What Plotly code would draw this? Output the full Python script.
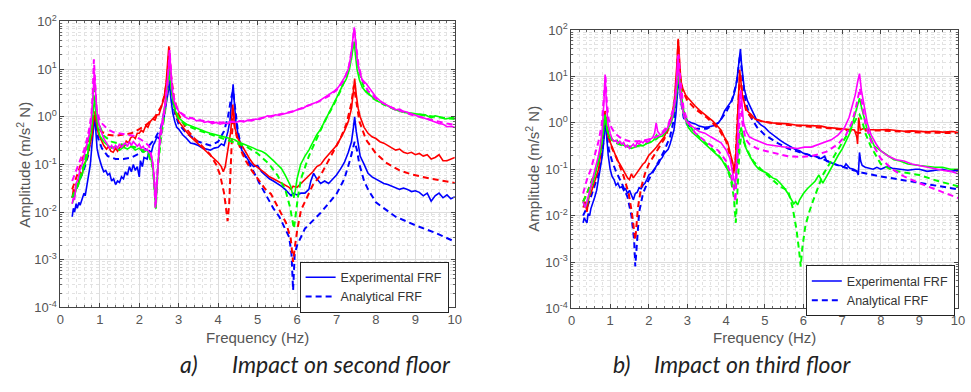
import plotly.graph_objects as go

# ---------------- data: (frequency Hz, amplitude) ----------------
# (a) Impact on second floor
a_blue_exp = [(0.30,0.008),(0.33,0.012),(0.36,0.010),(0.40,0.015),(0.43,0.012),(0.47,0.016),(0.50,0.014),(0.55,0.020),(0.60,0.025),(0.63,0.022),(0.67,0.035),(0.72,0.06),(0.76,0.10),(0.80,0.25),(0.84,0.6),(0.87,1.0),(0.90,0.5),(0.93,0.22),(0.97,0.15),(1.00,0.12),(1.05,0.09),(1.10,0.07),(1.15,0.075),(1.20,0.06),(1.25,0.065),(1.30,0.045),(1.35,0.05),(1.40,0.038),(1.45,0.045),(1.50,0.042),(1.55,0.055),(1.60,0.05),(1.65,0.07),(1.70,0.06),(1.75,0.09),(1.80,0.07),(1.85,0.10),(1.90,0.075),(1.95,0.09),(2.00,0.055),(2.03,0.12),(2.08,0.09),(2.12,0.14),(2.20,0.13),(2.25,0.20),(2.30,0.17),(2.35,0.25),(2.40,0.30),(2.45,0.38),(2.50,0.35),(2.55,0.5),(2.62,0.9),(2.68,1.8),(2.74,3.5),(2.77,5.0),(2.80,2.5),(2.85,1.2),(2.90,0.8),(2.95,0.6),(3.00,0.55),(3.10,0.42),(3.20,0.35),(3.30,0.28),(3.40,0.27),(3.50,0.25),(3.60,0.22),(3.70,0.21),(3.80,0.20),(3.90,0.22),(4.00,0.23),(4.08,0.27),(4.15,0.25),(4.20,0.35),(4.25,0.5),(4.30,0.85),(4.35,2.5),(4.38,4.8),(4.41,2.0),(4.45,0.8),(4.50,0.45),(4.55,0.3),(4.60,0.2),(4.70,0.15),(4.80,0.11),(4.90,0.09),(5.00,0.095),(5.10,0.07),(5.20,0.06),(5.30,0.05),(5.40,0.045),(5.50,0.04),(5.60,0.035),(5.70,0.03),(5.80,0.025),(5.85,0.022),(5.90,0.025),(6.00,0.023),(6.10,0.025),(6.20,0.025),(6.30,0.03),(6.35,0.045),(6.42,0.065),(6.50,0.05),(6.60,0.04),(6.70,0.045),(6.80,0.04),(6.90,0.05),(7.00,0.06),(7.10,0.08),(7.20,0.11),(7.30,0.18),(7.38,0.3),(7.43,0.6),(7.46,1.0),(7.50,0.5),(7.55,0.25),(7.60,0.15),(7.70,0.1),(7.80,0.065),(7.90,0.055),(8.00,0.05),(8.10,0.045),(8.20,0.04),(8.30,0.038),(8.40,0.035),(8.50,0.032),(8.60,0.03),(8.70,0.032),(8.80,0.03),(8.90,0.027),(9.00,0.028),(9.10,0.026),(9.20,0.022),(9.30,0.025),(9.40,0.017),(9.50,0.022),(9.60,0.025),(9.70,0.02),(9.80,0.023),(9.90,0.019),(10.00,0.021)]
a_blue_ana = [(0.30,0.02),(0.40,0.03),(0.50,0.05),(0.60,0.08),(0.70,0.15),(0.78,0.35),(0.83,0.7),(0.87,1.2),(0.91,0.6),(0.96,0.35),(1.05,0.22),(1.20,0.15),(1.40,0.13),(1.60,0.13),(1.80,0.14),(2.00,0.17),(2.20,0.22),(2.40,0.35),(2.55,0.6),(2.65,1.5),(2.72,4.0),(2.77,6.0),(2.82,3.0),(2.90,1.2),(3.00,0.7),(3.20,0.45),(3.50,0.3),(3.80,0.25),(4.00,0.3),(4.15,0.5),(4.25,1.0),(4.33,2.5),(4.38,3.5),(4.43,1.5),(4.50,0.5),(4.60,0.2),(4.75,0.12),(4.90,0.07),(5.05,0.04),(5.20,0.024),(5.40,0.012),(5.55,0.008),(5.70,0.0045),(5.80,0.003),(5.86,0.0013),(5.90,0.00023),(5.94,0.0013),(6.00,0.002),(6.20,0.0045),(6.60,0.0097),(7.00,0.024),(7.20,0.05),(7.35,0.13),(7.46,0.3),(7.52,0.2),(7.58,0.1),(7.70,0.045),(7.80,0.03),(8.00,0.016),(8.50,0.008),(9.00,0.0053),(9.50,0.0037),(10.00,0.0024)]
a_red_exp = [(0.30,0.02),(0.33,0.03),(0.37,0.025),(0.40,0.04),(0.45,0.035),(0.50,0.07),(0.55,0.06),(0.60,0.1),(0.67,0.13),(0.72,0.2),(0.76,0.28),(0.80,0.4),(0.84,0.8),(0.88,1.1),(0.92,0.7),(0.96,0.45),(1.00,0.38),(1.05,0.3),(1.10,0.25),(1.17,0.21),(1.22,0.24),(1.28,0.19),(1.34,0.18),(1.40,0.22),(1.45,0.19),(1.50,0.22),(1.56,0.26),(1.62,0.24),(1.67,0.31),(1.73,0.28),(1.78,0.36),(1.84,0.39),(1.90,0.35),(1.95,0.45),(2.00,0.45),(2.05,0.52),(2.10,0.48),(2.17,0.66),(2.22,0.6),(2.28,0.8),(2.34,0.9),(2.40,0.85),(2.45,1.1),(2.50,1.1),(2.56,1.6),(2.63,2.5),(2.68,5.0),(2.72,12),(2.75,30),(2.78,12),(2.82,4.0),(2.87,2.0),(2.92,1.2),(3.00,0.8),(3.10,0.6),(3.20,0.48),(3.30,0.38),(3.40,0.32),(3.50,0.27),(3.60,0.22),(3.70,0.19),(3.80,0.16),(3.90,0.13),(4.00,0.11),(4.08,0.09),(4.13,0.07),(4.18,0.09),(4.25,0.2),(4.32,0.5),(4.37,1.8),(4.42,0.6),(4.50,0.35),(4.60,0.25),(4.70,0.18),(4.80,0.13),(4.90,0.1),(5.00,0.085),(5.10,0.075),(5.20,0.065),(5.30,0.055),(5.40,0.05),(5.50,0.045),(5.60,0.04),(5.70,0.037),(5.80,0.033),(5.85,0.03),(5.90,0.035),(6.00,0.033),(6.10,0.04),(6.20,0.05),(6.30,0.06),(6.40,0.07),(6.50,0.09),(6.60,0.1),(6.70,0.13),(6.80,0.16),(6.90,0.2),(7.00,0.25),(7.10,0.35),(7.20,0.5),(7.30,0.8),(7.38,1.5),(7.43,3.5),(7.46,6.3),(7.50,3.0),(7.55,1.5),(7.60,1.0),(7.70,0.6),(7.80,0.45),(7.90,0.38),(8.00,0.35),(8.10,0.3),(8.20,0.28),(8.30,0.25),(8.40,0.22),(8.50,0.2),(8.60,0.21),(8.70,0.18),(8.80,0.17),(8.90,0.18),(9.00,0.16),(9.10,0.17),(9.20,0.15),(9.30,0.16),(9.40,0.13),(9.50,0.14),(9.60,0.16),(9.70,0.12),(9.80,0.12),(9.90,0.13),(10.00,0.14)]
a_red_ana = [(0.30,0.03),(0.40,0.05),(0.50,0.09),(0.60,0.16),(0.70,0.3),(0.78,0.6),(0.83,1.0),(0.87,1.3),(0.91,0.9),(0.96,0.6),(1.05,0.48),(1.20,0.42),(1.40,0.4),(1.60,0.42),(1.80,0.45),(2.00,0.55),(2.20,0.7),(2.40,1.0),(2.55,1.6),(2.65,3.0),(2.72,8.0),(2.76,28),(2.80,8.0),(2.88,2.5),(3.00,1.1),(3.20,0.55),(3.40,0.35),(3.60,0.24),(3.80,0.16),(3.95,0.1),(4.05,0.06),(4.15,0.025),(4.20,0.013),(4.24,0.0065),(4.28,0.015),(4.32,0.1),(4.35,0.6),(4.38,1.5),(4.42,0.6),(4.50,0.3),(4.60,0.18),(4.70,0.12),(4.85,0.075),(5.00,0.05),(5.20,0.03),(5.34,0.024),(5.45,0.016),(5.59,0.01),(5.72,0.006),(5.84,0.0028),(5.90,0.0009),(5.95,0.002),(6.00,0.004),(6.10,0.011),(6.25,0.02),(6.40,0.037),(6.60,0.06),(6.90,0.17),(7.10,0.35),(7.25,0.7),(7.37,1.8),(7.44,4.5),(7.50,2.0),(7.58,0.8),(7.75,0.33),(8.00,0.17),(8.25,0.11),(8.60,0.075),(8.90,0.062),(9.40,0.05),(10.00,0.041)]
a_green_exp = [(0.30,0.015),(0.35,0.02),(0.40,0.03),(0.45,0.035),(0.50,0.05),(0.55,0.06),(0.60,0.09),(0.65,0.12),(0.70,0.18),(0.75,0.3),(0.80,0.6),(0.84,1.5),(0.87,2.5),(0.90,1.2),(0.95,0.6),(1.00,0.4),(1.10,0.3),(1.20,0.25),(1.30,0.22),(1.40,0.24),(1.50,0.2),(1.60,0.23),(1.70,0.21),(1.80,0.24),(1.90,0.2),(2.00,0.22),(2.10,0.18),(2.20,0.2),(2.28,0.15),(2.35,0.08),(2.42,0.012),(2.47,0.08),(2.53,0.35),(2.60,0.9),(2.67,2.5),(2.73,6.0),(2.77,9.0),(2.81,4.0),(2.86,2.0),(2.92,1.3),(3.00,0.95),(3.10,0.8),(3.20,0.7),(3.30,0.65),(3.40,0.6),(3.50,0.55),(3.60,0.52),(3.70,0.48),(3.80,0.45),(3.90,0.43),(4.00,0.4),(4.10,0.38),(4.20,0.37),(4.30,0.35),(4.42,0.33),(4.50,0.3),(4.60,0.28),(4.70,0.26),(4.80,0.24),(4.90,0.22),(5.00,0.2),(5.10,0.19),(5.20,0.17),(5.30,0.14),(5.40,0.12),(5.50,0.1),(5.60,0.083),(5.70,0.06),(5.78,0.045),(5.84,0.035),(5.88,0.025),(5.92,0.02),(5.96,0.03),(6.00,0.05),(6.09,0.1),(6.20,0.15),(6.30,0.2),(6.40,0.3),(6.50,0.42),(6.60,0.55),(6.70,0.8),(6.80,1.1),(6.92,1.8),(7.05,3.0),(7.15,4.5),(7.25,6.2),(7.33,10),(7.38,18),(7.42,30),(7.45,38),(7.48,20),(7.52,10),(7.58,6.0),(7.65,4.2),(7.75,3.3),(7.90,2.6),(8.05,2.1),(8.25,1.8),(8.40,1.5),(8.60,1.3),(8.80,1.2),(9.00,1.15),(9.25,1.1),(9.40,0.95),(9.50,1.05),(9.60,1.0),(9.75,0.9),(9.90,0.95),(10.00,1.0)]
a_green_ana = [(0.30,0.02),(0.40,0.035),(0.50,0.06),(0.60,0.1),(0.70,0.25),(0.78,0.6),(0.83,1.8),(0.86,5.0),(0.89,2.0),(0.95,0.8),(1.10,0.4),(1.30,0.3),(1.50,0.27),(1.70,0.25),(1.90,0.23),(2.10,0.2),(2.25,0.15),(2.35,0.08),(2.42,0.012),(2.47,0.08),(2.55,0.35),(2.65,1.2),(2.72,4.0),(2.77,10),(2.82,4.0),(2.90,1.5),(3.00,0.9),(3.20,0.65),(3.50,0.52),(3.80,0.43),(4.10,0.36),(4.40,0.3),(4.70,0.24),(5.00,0.17),(5.30,0.1),(5.50,0.06),(5.70,0.03),(5.82,0.013),(5.88,0.006),(5.92,0.0045),(5.96,0.008),(6.02,0.02),(6.10,0.05),(6.30,0.15),(6.50,0.35),(6.70,0.8),(6.90,1.6),(7.10,3.5),(7.25,7.0),(7.35,14),(7.42,30),(7.46,40),(7.50,20),(7.57,9.0),(7.70,4.0),(7.90,2.5),(8.20,1.8),(8.50,1.4),(8.80,1.2),(9.10,1.1),(9.40,1.0),(9.70,0.95),(10.00,0.9)]
a_mag_exp = [(0.30,0.015),(0.33,0.02),(0.36,0.018),(0.40,0.04),(0.45,0.05),(0.50,0.08),(0.55,0.1),(0.60,0.15),(0.65,0.2),(0.70,0.3),(0.75,0.5),(0.78,0.8),(0.81,1.5),(0.83,3.0),(0.86,9.0),(0.89,3.0),(0.92,1.5),(0.96,0.8),(1.00,0.6),(1.05,0.45),(1.10,0.35),(1.15,0.3),(1.20,0.25),(1.25,0.22),(1.30,0.25),(1.35,0.21),(1.40,0.25),(1.45,0.22),(1.50,0.27),(1.55,0.23),(1.60,0.26),(1.65,0.28),(1.70,0.24),(1.75,0.3),(1.80,0.25),(1.85,0.3),(1.90,0.27),(1.95,0.24),(2.00,0.27),(2.05,0.22),(2.10,0.24),(2.15,0.2),(2.20,0.21),(2.25,0.18),(2.30,0.17),(2.35,0.1),(2.42,0.015),(2.47,0.1),(2.52,0.4),(2.58,0.8),(2.64,1.5),(2.68,3.0),(2.72,6.0),(2.75,12),(2.77,22),(2.80,8.0),(2.84,3.5),(2.88,2.2),(2.94,1.6),(3.00,1.3),(3.08,1.1),(3.15,1.0),(3.25,0.9),(3.35,0.95),(3.45,0.82),(3.55,0.85),(3.65,0.76),(3.75,0.8),(3.85,0.72),(3.95,0.76),(4.05,0.7),(4.15,0.74),(4.25,0.72),(4.35,0.8),(4.45,0.76),(4.55,0.82),(4.65,0.78),(4.75,0.85),(4.85,0.82),(4.95,0.9),(5.05,0.88),(5.15,0.95),(5.25,1.05),(5.35,1.0),(5.45,1.1),(5.55,1.08),(5.65,1.15),(5.75,1.2),(5.85,1.25),(5.95,1.35),(6.05,1.45),(6.15,1.5),(6.25,1.7),(6.35,1.8),(6.45,1.95),(6.55,2.1),(6.65,2.4),(6.75,2.7),(6.85,3.0),(6.95,3.5),(7.05,4.2),(7.15,5.5),(7.22,7.0),(7.30,10),(7.36,18),(7.41,40),(7.45,75),(7.49,35),(7.53,15),(7.58,9.0),(7.65,6.0),(7.75,5.0),(7.85,3.8),(8.00,2.6),(8.15,2.0),(8.25,1.8),(8.40,1.5),(8.50,1.4),(8.60,1.45),(8.70,1.3),(8.80,1.25),(8.90,1.15),(9.00,1.05),(9.10,1.0),(9.20,0.95),(9.30,0.9),(9.40,0.83),(9.50,0.78),(9.60,0.72),(9.70,0.7),(9.80,0.62),(9.90,0.63),(10.00,0.6)]
a_mag_ana = [(0.30,0.045),(0.40,0.075),(0.50,0.13),(0.60,0.2),(0.67,0.33),(0.74,0.6),(0.79,1.2),(0.82,3.0),(0.85,16),(0.88,4.0),(0.92,1.5),(1.00,0.8),(1.10,0.65),(1.20,0.55),(1.35,0.47),(1.50,0.45),(1.67,0.43),(1.85,0.4),(2.00,0.35),(2.15,0.29),(2.25,0.24),(2.33,0.12),(2.38,0.05),(2.41,0.012),(2.45,0.05),(2.50,0.2),(2.58,0.6),(2.65,1.5),(2.72,5.0),(2.77,25),(2.82,5.0),(2.90,2.0),(3.00,1.3),(3.20,1.0),(3.50,0.85),(3.80,0.78),(4.10,0.76),(4.40,0.78),(4.70,0.82),(5.00,0.9),(5.30,1.0),(5.60,1.15),(5.90,1.3),(6.20,1.6),(6.50,2.0),(6.80,2.7),(7.00,3.6),(7.20,6.0),(7.32,12),(7.40,30),(7.45,70),(7.50,30),(7.56,12),(7.65,6.0),(7.80,3.5),(8.00,2.4),(8.30,1.7),(8.60,1.35),(8.90,1.1),(9.20,0.95),(9.50,0.82),(9.80,0.72),(10.00,0.68)]

# (b) Impact on third floor
b_blue_exp = [(0.30,0.007),(0.33,0.009),(0.36,0.008),(0.40,0.007),(0.43,0.011),(0.47,0.01),(0.50,0.014),(0.55,0.018),(0.60,0.025),(0.65,0.035),(0.70,0.06),(0.75,0.1),(0.80,0.2),(0.84,0.45),(0.88,1.2),(0.91,0.5),(0.95,0.2),(1.00,0.1),(1.05,0.07),(1.10,0.06),(1.15,0.045),(1.20,0.05),(1.25,0.04),(1.30,0.042),(1.35,0.035),(1.40,0.038),(1.45,0.03),(1.50,0.035),(1.55,0.028),(1.60,0.022),(1.65,0.03),(1.70,0.032),(1.75,0.04),(1.80,0.038),(1.85,0.045),(1.90,0.05),(1.95,0.06),(2.00,0.075),(2.05,0.08),(2.10,0.09),(2.15,0.1),(2.20,0.12),(2.25,0.13),(2.30,0.16),(2.35,0.18),(2.40,0.22),(2.45,0.25),(2.50,0.27),(2.55,0.35),(2.60,0.5),(2.65,0.7),(2.70,1.5),(2.74,4.0),(2.77,9.0),(2.80,6.0),(2.85,2.5),(2.92,1.5),(3.00,1.1),(3.10,1.0),(3.20,0.95),(3.30,0.85),(3.45,0.8),(3.55,0.82),(3.70,0.88),(3.80,1.0),(3.87,1.2),(3.96,1.8),(4.05,2.3),(4.13,2.9),(4.20,4.0),(4.25,6.0),(4.30,12),(4.34,25),(4.37,39),(4.40,18),(4.44,8.0),(4.47,5.4),(4.55,3.0),(4.65,2.0),(4.73,1.5),(4.80,1.1),(4.90,0.9),(5.00,0.8),(5.10,0.65),(5.27,0.5),(5.40,0.42),(5.50,0.37),(5.65,0.31),(5.78,0.27),(5.90,0.25),(6.00,0.22),(6.10,0.21),(6.20,0.19),(6.30,0.2),(6.40,0.17),(6.46,0.17),(6.55,0.19),(6.60,0.15),(6.70,0.14),(6.80,0.13),(6.90,0.12),(6.97,0.12),(7.05,0.11),(7.10,0.13),(7.20,0.105),(7.30,0.1),(7.38,0.09),(7.42,0.075),(7.45,0.23),(7.48,0.15),(7.52,0.12),(7.60,0.11),(7.70,0.105),(7.80,0.1),(7.90,0.11),(8.00,0.1),(8.17,0.115),(8.30,0.105),(8.50,0.1),(8.70,0.095),(8.90,0.1),(9.00,0.1),(9.20,0.09),(9.40,0.095),(9.60,0.1),(9.80,0.09),(10.00,0.095)]
b_blue_ana = [(0.30,0.01),(0.40,0.015),(0.50,0.025),(0.60,0.045),(0.70,0.08),(0.80,0.25),(0.85,0.6),(0.88,1.0),(0.92,0.5),(0.97,0.25),(1.05,0.15),(1.15,0.09),(1.30,0.05),(1.45,0.025),(1.55,0.01),(1.62,0.003),(1.65,0.0008),(1.69,0.003),(1.75,0.012),(1.85,0.03),(2.00,0.06),(2.20,0.12),(2.40,0.25),(2.55,0.5),(2.65,1.2),(2.73,4.0),(2.78,8.0),(2.83,3.0),(2.90,1.3),(3.00,0.9),(3.20,0.75),(3.50,0.75),(3.80,1.0),(4.00,1.7),(4.15,3.0),(4.28,8.0),(4.36,30),(4.42,10),(4.50,3.0),(4.60,1.5),(4.80,0.8),(5.00,0.55),(5.30,0.38),(5.60,0.28),(6.00,0.22),(6.40,0.18),(6.80,0.13),(7.20,0.1),(7.50,0.085),(8.00,0.07),(8.50,0.06),(9.00,0.05),(9.50,0.043),(10.00,0.037)]
b_red_exp = [(0.30,0.015),(0.35,0.02),(0.40,0.012),(0.45,0.025),(0.50,0.03),(0.55,0.04),(0.60,0.05),(0.65,0.07),(0.70,0.1),(0.75,0.2),(0.80,0.4),(0.84,0.9),(0.87,1.6),(0.90,0.9),(0.95,0.5),(1.00,0.38),(1.05,0.3),(1.10,0.22),(1.15,0.18),(1.20,0.15),(1.25,0.13),(1.30,0.11),(1.35,0.09),(1.40,0.075),(1.45,0.065),(1.50,0.06),(1.55,0.08),(1.60,0.065),(1.65,0.075),(1.70,0.085),(1.75,0.1),(1.80,0.11),(1.85,0.13),(1.90,0.14),(1.95,0.17),(2.00,0.2),(2.05,0.22),(2.10,0.25),(2.15,0.27),(2.20,0.3),(2.30,0.4),(2.40,0.5),(2.50,0.8),(2.60,1.5),(2.66,3.0),(2.70,8.0),(2.73,20),(2.76,65),(2.79,20),(2.83,8.0),(2.88,5.5),(2.95,4.0),(3.02,3.4),(3.10,2.8),(3.20,2.3),(3.30,1.9),(3.45,1.5),(3.55,1.3),(3.65,1.1),(3.75,0.9),(3.87,0.69),(3.95,0.5),(4.04,0.38),(4.12,0.2),(4.17,0.14),(4.21,0.09),(4.25,0.2),(4.29,1.0),(4.32,4.0),(4.35,14),(4.38,8.0),(4.42,4.0),(4.48,2.5),(4.55,1.8),(4.65,1.5),(4.75,1.2),(4.90,1.1),(5.00,1.05),(5.20,1.0),(5.40,0.98),(5.60,0.95),(5.80,0.9),(6.00,0.88),(6.20,0.85),(6.46,0.85),(6.60,0.8),(6.80,0.78),(7.00,0.75),(7.20,0.72),(7.32,0.7),(7.38,0.5),(7.40,0.35),(7.43,1.3),(7.47,0.7),(7.55,0.75),(7.70,0.72),(7.90,0.7),(8.17,0.72),(8.40,0.68),(8.60,0.66),(8.80,0.67),(9.00,0.65),(9.20,0.64),(9.40,0.66),(9.60,0.63),(9.87,0.65),(10.00,0.62)]
b_red_ana = [(0.30,0.02),(0.40,0.03),(0.50,0.05),(0.60,0.08),(0.70,0.15),(0.80,0.5),(0.84,1.0),(0.87,1.8),(0.91,0.9),(0.96,0.5),(1.05,0.28),(1.20,0.15),(1.35,0.07),(1.48,0.03),(1.56,0.012),(1.62,0.005),(1.65,0.003),(1.68,0.006),(1.72,0.015),(1.80,0.04),(1.90,0.08),(2.00,0.13),(2.20,0.25),(2.40,0.45),(2.55,0.9),(2.65,2.0),(2.72,8.0),(2.76,60),(2.80,12),(2.87,5.0),(3.00,3.0),(3.20,2.0),(3.50,1.3),(3.80,0.75),(4.00,0.4),(4.12,0.17),(4.20,0.08),(4.24,0.15),(4.30,1.5),(4.36,12),(4.42,4.0),(4.52,1.8),(4.65,1.3),(4.90,1.1),(5.30,0.95),(6.00,0.85),(6.50,0.78),(7.00,0.72),(7.30,0.66),(7.42,0.6),(7.48,0.62),(7.60,0.68),(8.00,0.68),(9.00,0.62),(10.00,0.6)]
b_green_exp = [(0.30,0.02),(0.35,0.015),(0.40,0.018),(0.45,0.025),(0.50,0.04),(0.55,0.05),(0.60,0.07),(0.65,0.1),(0.70,0.15),(0.75,0.25),(0.80,0.5),(0.84,1.0),(0.87,1.5),(0.90,0.9),(0.95,0.6),(1.00,0.5),(1.10,0.4),(1.18,0.42),(1.25,0.35),(1.35,0.33),(1.45,0.3),(1.55,0.28),(1.65,0.3),(1.75,0.33),(1.85,0.32),(1.95,0.36),(2.05,0.38),(2.12,0.42),(2.20,0.55),(2.25,0.5),(2.35,0.52),(2.45,0.65),(2.55,0.9),(2.62,1.3),(2.68,2.5),(2.73,5.0),(2.77,12),(2.80,6.0),(2.85,2.5),(2.90,1.5),(2.95,1.1),(3.02,0.8),(3.10,0.65),(3.20,0.55),(3.30,0.45),(3.45,0.36),(3.55,0.3),(3.65,0.26),(3.75,0.21),(3.87,0.17),(3.95,0.13),(4.04,0.1),(4.10,0.08),(4.16,0.05),(4.21,0.035),(4.25,0.06),(4.30,0.2),(4.35,0.6),(4.39,0.8),(4.43,0.55),(4.50,0.3),(4.60,0.2),(4.73,0.13),(4.85,0.1),(4.95,0.09),(5.08,0.08),(5.20,0.065),(5.30,0.06),(5.40,0.05),(5.50,0.04),(5.60,0.03),(5.70,0.022),(5.75,0.018),(5.80,0.02),(5.85,0.017),(5.90,0.022),(6.00,0.03),(6.10,0.038),(6.20,0.045),(6.30,0.055),(6.40,0.075),(6.50,0.05),(6.60,0.07),(6.70,0.1),(6.80,0.14),(6.90,0.2),(7.00,0.27),(7.10,0.4),(7.20,0.6),(7.30,1.2),(7.37,2.0),(7.42,3.0),(7.45,3.4),(7.50,2.2),(7.57,1.2),(7.65,0.7),(7.75,0.45),(7.83,0.32),(8.00,0.25),(8.17,0.2),(8.34,0.16),(8.50,0.15),(8.70,0.13),(9.00,0.12),(9.20,0.115),(9.40,0.11),(9.60,0.11),(9.80,0.1),(10.00,0.1)]
b_green_ana = [(0.30,0.02),(0.40,0.03),(0.50,0.05),(0.60,0.08),(0.70,0.15),(0.80,0.45),(0.84,0.9),(0.87,1.4),(0.91,0.8),(0.97,0.5),(1.10,0.38),(1.30,0.33),(1.60,0.3),(1.90,0.35),(2.20,0.45),(2.50,0.8),(2.65,2.0),(2.73,6.0),(2.77,12),(2.82,5.0),(2.90,1.8),(3.00,1.0),(3.20,0.6),(3.50,0.35),(3.80,0.2),(4.00,0.12),(4.12,0.06),(4.20,0.025),(4.25,0.007),(4.29,0.03),(4.35,0.3),(4.40,0.6),(4.45,0.4),(4.55,0.25),(4.70,0.15),(4.90,0.1),(5.10,0.07),(5.30,0.05),(5.45,0.04),(5.60,0.035),(5.72,0.015),(5.82,0.005),(5.88,0.002),(5.93,0.0008),(5.97,0.002),(6.05,0.006),(6.15,0.012),(6.25,0.021),(6.50,0.075),(6.75,0.17),(7.00,0.37),(7.25,0.8),(7.38,1.3),(7.45,1.5),(7.52,1.1),(7.60,0.6),(7.75,0.3),(8.00,0.13),(8.30,0.095),(8.60,0.085),(9.00,0.075),(9.50,0.055),(10.00,0.043)]
b_mag_exp = [(0.30,0.02),(0.35,0.015),(0.40,0.02),(0.45,0.03),(0.50,0.045),(0.55,0.06),(0.60,0.09),(0.65,0.13),(0.70,0.2),(0.75,0.35),(0.80,0.8),(0.84,3.0),(0.87,11),(0.90,3.0),(0.94,1.0),(1.00,0.6),(1.05,0.45),(1.10,0.4),(1.15,0.42),(1.20,0.36),(1.25,0.4),(1.30,0.35),(1.35,0.38),(1.40,0.3),(1.45,0.33),(1.50,0.28),(1.55,0.32),(1.60,0.35),(1.65,0.3),(1.70,0.38),(1.75,0.35),(1.80,0.4),(1.85,0.37),(1.90,0.42),(1.95,0.38),(2.00,0.4),(2.05,0.45),(2.10,0.48),(2.15,0.6),(2.19,1.0),(2.23,0.65),(2.30,0.55),(2.38,0.6),(2.45,0.7),(2.55,1.0),(2.62,1.5),(2.68,3.0),(2.72,8.0),(2.75,28),(2.78,12),(2.82,4.0),(2.87,2.0),(2.92,1.3),(3.00,1.0),(3.10,0.85),(3.20,0.75),(3.30,0.65),(3.45,0.6),(3.60,0.5),(3.75,0.42),(3.87,0.37),(4.00,0.26),(4.10,0.17),(4.15,0.1),(4.20,0.06),(4.24,0.05),(4.28,0.3),(4.32,1.5),(4.35,3.5),(4.38,5.0),(4.41,2.0),(4.45,1.0),(4.52,0.65),(4.60,0.5),(4.75,0.43),(4.90,0.38),(5.05,0.34),(5.27,0.32),(5.45,0.3),(5.65,0.29),(5.85,0.28),(6.03,0.3),(6.20,0.3),(6.40,0.34),(6.55,0.38),(6.72,0.43),(6.90,0.55),(7.06,0.78),(7.18,1.3),(7.28,2.5),(7.34,4.0),(7.40,7.5),(7.45,11.5),(7.50,5.0),(7.57,2.2),(7.65,1.0),(7.75,0.55),(7.88,0.35),(8.00,0.25),(8.20,0.19),(8.40,0.16),(8.60,0.15),(8.80,0.13),(9.00,0.12),(9.20,0.11),(9.40,0.1),(9.60,0.095),(9.80,0.09),(10.00,0.08)]
b_mag_ana = [(0.30,0.03),(0.40,0.06),(0.50,0.1),(0.60,0.2),(0.70,0.4),(0.78,0.9),(0.83,2.5),(0.86,6.0),(0.88,10),(0.91,3.0),(0.96,1.2),(1.03,0.8),(1.12,0.6),(1.30,0.45),(1.50,0.4),(1.70,0.4),(1.90,0.42),(2.10,0.46),(2.30,0.55),(2.50,0.9),(2.65,2.2),(2.72,7.0),(2.77,30),(2.82,8.0),(2.90,2.0),(3.00,1.1),(3.20,0.6),(3.50,0.38),(3.80,0.25),(4.00,0.15),(4.12,0.08),(4.20,0.04),(4.24,0.02),(4.28,0.1),(4.34,1.5),(4.38,4.0),(4.42,1.0),(4.50,0.45),(4.60,0.35),(4.80,0.28),(5.00,0.25),(5.30,0.22),(5.60,0.19),(6.00,0.185),(6.30,0.2),(6.60,0.24),(6.90,0.35),(7.10,0.55),(7.25,1.0),(7.35,2.0),(7.42,4.0),(7.46,5.5),(7.52,2.5),(7.60,1.0),(7.75,0.4),(8.00,0.17),(8.30,0.1),(8.60,0.07),(9.00,0.05),(9.50,0.035),(10.00,0.024)]

x_ticks = [0, 1, 2, 3, 4, 5, 6, 7, 8, 9, 10]
y_major = [1e-4, 1e-3, 1e-2, 1e-1, 1e0, 1e1, 1e2]
y_major_text = ["10<sup>-4</sup>", "10<sup>-3</sup>", "10<sup>-2</sup>", "10<sup>-1</sup>",
                "10<sup>0</sup>", "10<sup>1</sup>", "10<sup>2</sup>"]
y_minor = [m * 10.0 ** e for e in range(-4, 2) for m in range(2, 10)]

legend_names = ["Experimental FRF", "Analytical FRF"]
captions = ["a)", "Impact on second floor", "b)", "Impact on third floor"]

COLORS = {"blue": "#0000ff", "red": "#ff0000", "green": "#00ff00", "mag": "#ff00ff"}

# ---------------- figure ----------------
fig = go.Figure()

panels = [
    ("x", "y", "legend", {"blue": (a_blue_exp, a_blue_ana), "red": (a_red_exp, a_red_ana),
                          "green": (a_green_exp, a_green_ana), "mag": (a_mag_exp, a_mag_ana)}),
    ("x2", "y2", "legend2", {"blue": (b_blue_exp, b_blue_ana), "red": (b_red_exp, b_red_ana),
                             "green": (b_green_exp, b_green_ana), "mag": (b_mag_exp, b_mag_ana)}),
]

for xa, ya, leg, series in panels:
    for key in ["blue", "red", "green", "mag"]:
        exp, ana = series[key]
        for kind, pts in (("exp", exp), ("ana", ana)):
            xs = [p[0] for p in pts]
            ys = [p[1] for p in pts]
            is_blue = key == "blue"
            fig.add_trace(go.Scatter(
                x=xs, y=ys, mode="lines", xaxis=xa, yaxis=ya,
                line=dict(color=COLORS[key], width=1.6 if kind == "exp" else 2.0,
                          dash="solid" if kind == "exp" else "6px,4px"),
                name=legend_names[0] if kind == "exp" else legend_names[1],
                showlegend=is_blue, legend=leg,
                hoverinfo="skip",
            ))

W, H = 971, 392

def px_x(p):
    return p / W

def px_y(p):
    return 1 - p / H

tick_font = dict(family="Liberation Sans, Arial, sans-serif", size=13, color="#555555")
common_x = dict(range=[0, 10], tickvals=x_ticks, ticks="inside", ticklen=4, tickcolor="#444",
                showline=True, linecolor="#444", linewidth=1, mirror="ticks",
                showgrid=True, gridcolor="#dcdcdc", gridwidth=1, zeroline=False,
                tickfont=tick_font,
                minor=dict(dtick=0.2, showgrid=True, gridcolor="#e2e2e2", griddash="dot",
                           ticks="inside", ticklen=2, tickcolor="#666"))
common_y = dict(type="log", range=[-4, 2], tickvals=y_major, ticktext=y_major_text,
                ticks="inside", ticklen=4, tickcolor="#444",
                showline=True, linecolor="#444", linewidth=1, mirror="ticks",
                showgrid=True, gridcolor="#dcdcdc", gridwidth=1, zeroline=False,
                tickfont=tick_font,
                minor=dict(tickvals=y_minor, showgrid=True, gridcolor="#e2e2e2", griddash="dot",
                           ticks="inside", ticklen=2, tickcolor="#666"))

legend_font = dict(family="Liberation Sans, Arial, sans-serif", size=12.5, color="#333")
fig.update_layout(
    width=W, height=H, margin=dict(l=0, r=0, t=0, b=0),
    paper_bgcolor="white", plot_bgcolor="white",
    xaxis=dict(domain=[px_x(57), px_x(456)], anchor="y", **common_x),
    yaxis=dict(domain=[px_y(312), px_y(13)], anchor="x", **common_y),
    xaxis2=dict(domain=[px_x(574), px_x(965)], anchor="y2", **common_x),
    yaxis2=dict(domain=[px_y(313), px_y(22)], anchor="x2", **common_y),
    legend=dict(x=px_x(299), y=px_y(264), xanchor="left", yanchor="top",
                bgcolor="white", bordercolor="#222", borderwidth=1,
                font=legend_font, tracegroupgap=0, itemwidth=30),
    legend2=dict(x=px_x(811), y=px_y(268), xanchor="left", yanchor="top",
                 bgcolor="white", bordercolor="#222", borderwidth=1,
                 font=legend_font, tracegroupgap=0, itemwidth=30),
)

title_font = dict(family="Liberation Sans, Arial, sans-serif", size=15, color="#555555")
ann = []
for cx, cy in ((20, 163), (535, 167)):
    ann.append(dict(text="Amplitude (m/s<sup>2</sup> N)", x=px_x(cx), y=px_y(cy), xref="paper", yref="paper",
                    textangle=-90, showarrow=False, font=title_font, xanchor="center", yanchor="middle"))
for cx in (256, 769):
    ann.append(dict(text="Frequency (Hz)", x=px_x(cx), y=px_y(343), xref="paper", yref="paper",
                    showarrow=False, font=title_font, xanchor="center", yanchor="middle"))
cap_font = dict(family="Lato, Open Sans, sans-serif", size=23, color="#222222")
for txt, cx in zip(captions, (176, 229, 614, 655)):
    ann.append(dict(text="<i>" + txt + "</i>", x=px_x(cx), y=px_y(371), xref="paper", yref="paper",
                    showarrow=False, font=cap_font, xanchor="left", yanchor="middle"))
fig.update_layout(annotations=ann)

fig.write_html("out.html")
